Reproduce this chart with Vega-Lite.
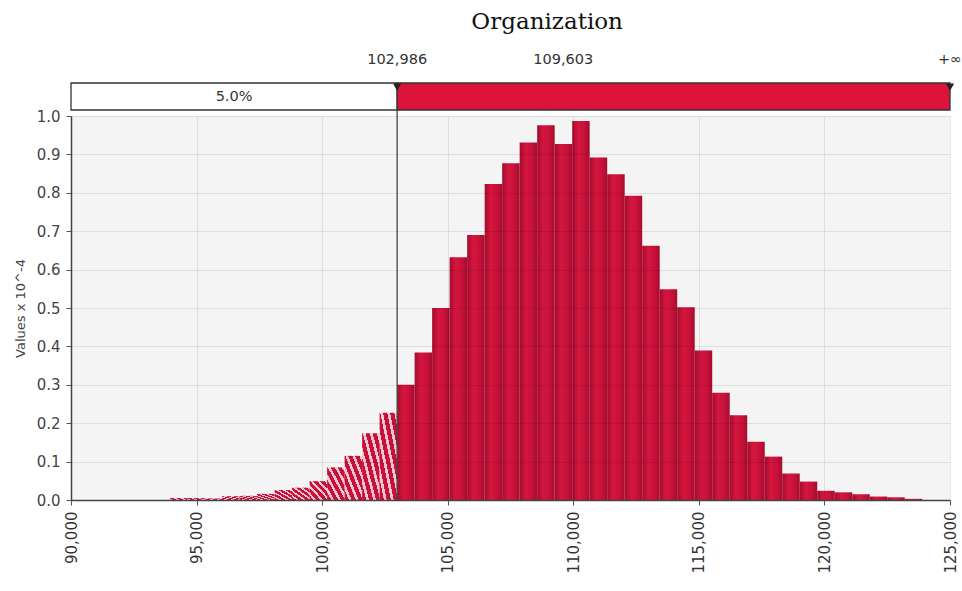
{
  "$schema": "https://vega.github.io/schema/vega-lite/v6.json",
  "padding": {"left": 14, "top": 11, "right": 5, "bottom": 5},
  "background": "white",
  "title": {"text": "Organization", "font": "DejaVu Serif", "fontSize": 23, "fontWeight": "normal", "color": "#111111", "anchor": "middle", "dx": 59, "offset": 18},
  "config": {"view": {"stroke": null}, "font": "DejaVu Sans"},
  "spacing": 6,
  "bounds": "flush",
  "datasets": {
    "bins": [
      {"x0": 93925, "x1": 94622, "v": 0.005, "part": "tail"},
      {"x0": 94622, "x1": 95319, "v": 0.005, "part": "tail"},
      {"x0": 95319, "x1": 96016, "v": 0.004, "part": "tail"},
      {"x0": 96016, "x1": 96713, "v": 0.010, "part": "tail"},
      {"x0": 96713, "x1": 97410, "v": 0.011, "part": "tail"},
      {"x0": 97410, "x1": 98107, "v": 0.016, "part": "tail"},
      {"x0": 98107, "x1": 98804, "v": 0.026, "part": "tail"},
      {"x0": 98804, "x1": 99501, "v": 0.032, "part": "tail"},
      {"x0": 99501, "x1": 100198, "v": 0.049, "part": "tail"},
      {"x0": 100198, "x1": 100895, "v": 0.085, "part": "tail"},
      {"x0": 100895, "x1": 101592, "v": 0.115, "part": "tail"},
      {"x0": 101592, "x1": 102289, "v": 0.174, "part": "tail"},
      {"x0": 102289, "x1": 102986, "v": 0.227, "part": "tail"},
      {"x0": 102986, "x1": 103683, "v": 0.300, "part": "body"},
      {"x0": 103683, "x1": 104380, "v": 0.384, "part": "body"},
      {"x0": 104380, "x1": 105077, "v": 0.500, "part": "body"},
      {"x0": 105077, "x1": 105774, "v": 0.632, "part": "body"},
      {"x0": 105774, "x1": 106471, "v": 0.690, "part": "body"},
      {"x0": 106471, "x1": 107168, "v": 0.823, "part": "body"},
      {"x0": 107168, "x1": 107865, "v": 0.877, "part": "body"},
      {"x0": 107865, "x1": 108562, "v": 0.931, "part": "body"},
      {"x0": 108562, "x1": 109259, "v": 0.976, "part": "body"},
      {"x0": 109259, "x1": 109956, "v": 0.927, "part": "body"},
      {"x0": 109956, "x1": 110653, "v": 0.987, "part": "body"},
      {"x0": 110653, "x1": 111350, "v": 0.892, "part": "body"},
      {"x0": 111350, "x1": 112047, "v": 0.848, "part": "body"},
      {"x0": 112047, "x1": 112744, "v": 0.792, "part": "body"},
      {"x0": 112744, "x1": 113441, "v": 0.662, "part": "body"},
      {"x0": 113441, "x1": 114138, "v": 0.549, "part": "body"},
      {"x0": 114138, "x1": 114835, "v": 0.502, "part": "body"},
      {"x0": 114835, "x1": 115532, "v": 0.389, "part": "body"},
      {"x0": 115532, "x1": 116229, "v": 0.279, "part": "body"},
      {"x0": 116229, "x1": 116926, "v": 0.221, "part": "body"},
      {"x0": 116926, "x1": 117623, "v": 0.152, "part": "body"},
      {"x0": 117623, "x1": 118320, "v": 0.113, "part": "body"},
      {"x0": 118320, "x1": 119017, "v": 0.069, "part": "body"},
      {"x0": 119017, "x1": 119714, "v": 0.048, "part": "body"},
      {"x0": 119714, "x1": 120411, "v": 0.024, "part": "body"},
      {"x0": 120411, "x1": 121108, "v": 0.020, "part": "body"},
      {"x0": 121108, "x1": 121805, "v": 0.015, "part": "body"},
      {"x0": 121805, "x1": 122502, "v": 0.009, "part": "body"},
      {"x0": 122502, "x1": 123199, "v": 0.007, "part": "body"},
      {"x0": 123199, "x1": 123896, "v": 0.003, "part": "body"}
    ],
    "band": [
      {"a": 90000, "b": 102986, "seg": "below", "label": "5.0%", "mid": 96493},
      {"a": 102986, "b": 125000, "seg": "above", "label": "", "mid": 114000}
    ],
    "marks": [
      {"x": 102986, "label": "102,986", "marker": "yes"},
      {"x": 109603, "label": "109,603", "marker": "no"},
      {"x": 125000, "label": "+∞", "marker": "yes"}
    ],
    "cut": [{"x": 102986, "v": 0}]
  },
  "vconcat": [
    {
      "width": 879,
      "height": 54,
      "layer": [
        {
          "data": {"name": "band"},
          "mark": {"type": "rect", "stroke": "#333333", "strokeWidth": 1.3},
          "encoding": {
            "x": {"field": "a", "type": "quantitative", "scale": {"domain": [90000, 125000], "nice": false, "zero": false}, "axis": null},
            "x2": {"field": "b"},
            "y": {"datum": 0, "type": "quantitative", "scale": {"domain": [0, 2], "nice": false}, "axis": null},
            "y2": {"datum": 1},
            "fill": {"field": "seg", "type": "nominal", "scale": {"domain": ["below", "above"], "range": ["#ffffff", "#dc143c"]}, "legend": null}
          }
        },
        {
          "data": {"name": "band"},
          "mark": {"type": "text", "font": "DejaVu Sans", "fontSize": 14.5, "color": "#333333", "align": "center", "baseline": "middle"},
          "encoding": {
            "x": {"field": "mid", "type": "quantitative"},
            "y": {"datum": 0.48, "type": "quantitative"},
            "text": {"field": "label"}
          }
        },
        {
          "data": {"name": "marks"},
          "mark": {"type": "text", "font": "DejaVu Sans", "fontSize": 14.5, "color": "#333333", "align": "center", "baseline": "middle"},
          "encoding": {
            "x": {"field": "x", "type": "quantitative"},
            "y": {"datum": 1.85, "type": "quantitative"},
            "text": {"field": "label"}
          }
        },
        {
          "data": {"name": "marks"},
          "transform": [{"filter": "datum.marker == 'yes'"}],
          "mark": {"type": "point", "shape": "triangle-down", "filled": true, "color": "#222222", "size": 70, "opacity": 1},
          "encoding": {
            "x": {"field": "x", "type": "quantitative"},
            "y": {"datum": 0.85, "type": "quantitative"}
          }
        }
      ]
    },
    {
      "width": 879,
      "height": 384,
      "view": {"fill": "#f4f4f4", "stroke": null},
      "encoding": {
        "x": {"field": "x0", "type": "quantitative", "scale": {"domain": [90000, 125000], "nice": false, "zero": false},
          "axis": {"values": [90000, 95000, 100000, 105000, 110000, 115000, 120000, 125000], "format": ",d", "labelAngle": 270, "labelAlign": "right", "labelBaseline": "middle", "labelFont": "DejaVu Sans", "labelFontSize": 15, "labelColor": "#333333", "labelPadding": 6, "labelOverlap": false, "labelFlush": false, "tickSize": 5, "tickColor": "#555555", "domainColor": "#444444", "domainWidth": 1.5, "grid": true, "gridColor": "#000000", "gridOpacity": 0.09, "title": null, "zindex": 1}},
        "y": {"field": "v", "type": "quantitative", "scale": {"domain": [0, 1], "nice": false, "zero": true},
          "axis": {"values": [0, 0.1, 0.2, 0.3, 0.4, 0.5, 0.6, 0.7, 0.8, 0.9, 1.0], "format": ".1f", "labelFont": "DejaVu Sans", "labelFontSize": 15, "labelColor": "#444444", "labelPadding": 6, "labelOverlap": false, "labelFlush": false, "tickSize": 5, "tickColor": "#555555", "domainColor": "#444444", "domainWidth": 1.5, "grid": true, "gridColor": "#000000", "gridOpacity": 0.09, "title": "Values x 10^-4", "titleFont": "DejaVu Sans", "titleFontSize": 13, "titleFontWeight": "normal", "titleColor": "#444444", "titlePadding": 9, "zindex": 1}}
      },
      "layer": [
        {
          "data": {"name": "bins"},
          "transform": [{"filter": "datum.part == 'tail'"}],
          "mark": {
            "type": "bar",
            "color": {
              "gradient": "linear", "x1": 0, "y1": 1, "x2": 1, "y2": 0,
              "stops": [
                {"offset": 0, "color": "#c8103a"}, {"offset": 0.12, "color": "#c8103a"},
                {"offset": 0.12, "color": "#f2c6d0"}, {"offset": 0.2, "color": "#f2c6d0"},
                {"offset": 0.2, "color": "#c8103a"}, {"offset": 0.32, "color": "#c8103a"},
                {"offset": 0.32, "color": "#f2c6d0"}, {"offset": 0.4, "color": "#f2c6d0"},
                {"offset": 0.4, "color": "#c8103a"}, {"offset": 0.52, "color": "#c8103a"},
                {"offset": 0.52, "color": "#f2c6d0"}, {"offset": 0.6, "color": "#f2c6d0"},
                {"offset": 0.6, "color": "#c8103a"}, {"offset": 0.72, "color": "#c8103a"},
                {"offset": 0.72, "color": "#f2c6d0"}, {"offset": 0.8, "color": "#f2c6d0"},
                {"offset": 0.8, "color": "#c8103a"}, {"offset": 0.92, "color": "#c8103a"},
                {"offset": 0.92, "color": "#f2c6d0"}, {"offset": 1, "color": "#f2c6d0"}
              ]
            }
          },
          "encoding": {
            "x2": {"field": "x1"},
            "y2": {"datum": 0}
          }
        },
        {
          "data": {"name": "bins"},
          "transform": [{"filter": "datum.part == 'body'"}],
          "mark": {
            "type": "bar",
            "color": {
              "gradient": "linear", "x1": 0, "y1": 0, "x2": 1, "y2": 0,
              "stops": [
                {"offset": 0, "color": "#a30b2d"},
                {"offset": 0.35, "color": "#d5163e"},
                {"offset": 0.7, "color": "#c8113a"},
                {"offset": 1, "color": "#a50c2e"}
              ]
            }
          },
          "encoding": {
            "x2": {"field": "x1"},
            "y2": {"datum": 0}
          }
        },
        {
          "data": {"name": "cut"},
          "mark": {"type": "rule", "color": "#444444", "strokeWidth": 1.3, "clip": false},
          "encoding": {
            "x": {"field": "x", "type": "quantitative"},
            "y2": {"datum": 1.016}
          }
        }
      ]
    }
  ]
}
